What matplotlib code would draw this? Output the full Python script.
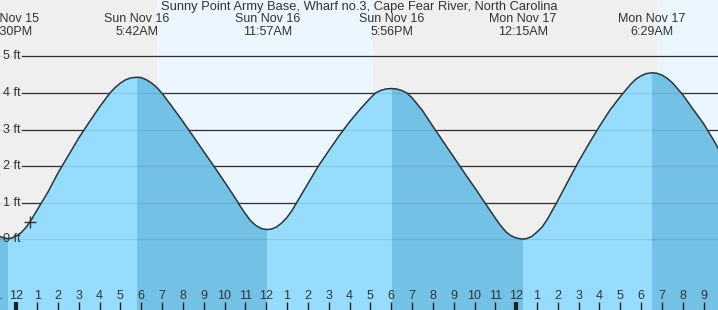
import matplotlib
matplotlib.use('Agg')
import matplotlib.pyplot as plt
import numpy as np
from matplotlib.patches import Rectangle
from matplotlib.transforms import blended_transform_factory

plt.rcParams['font.family'] = ['Liberation Sans', 'DejaVu Sans']

TITLE = 'Sunny Point Army Base, Wharf no.3, Cape Fear River, North Carolina'

# hours since midnight Sun Nov 16, every half hour
HOURS = np.arange(-1.0, 34.5, 0.5)
HEIGHTS_FT = [
    0.10, 0.03, 0.09, 0.35, 0.80, 1.27, 1.81, 2.29, 2.77, 3.20, 3.62, 4.00,
    4.27, 4.41, 4.42, 4.27, 3.99, 3.61, 3.22, 2.81, 2.40, 1.99, 1.57, 1.14,
    0.70, 0.38, 0.27, 0.34, 0.60, 1.04, 1.52, 2.00, 2.42, 2.83, 3.21, 3.55,
    3.86, 4.07, 4.12, 4.07, 3.87, 3.52, 3.09, 2.67, 2.25, 1.83, 1.42, 1.00,
    0.58, 0.21, 0.04, 0.02, 0.20, 0.55, 1.06, 1.60, 2.13, 2.62, 3.09, 3.53,
    3.90, 4.24, 4.47, 4.55, 4.49, 4.28, 3.95, 3.55, 3.16, 2.69, 2.18,
]

# extra quarter hour readings around the turns of the tide
EXTRA_HOURS = [-0.75, -0.25, 0.25, 0.75,
               4.75, 5.25, 6.25, 6.75,
               10.75, 11.25, 11.75, 12.25, 12.75, 13.25,
               17.25, 17.75, 18.25, 18.75,
               23.25, 23.75, 24.25, 24.75, 25.25,
               29.75, 30.25, 30.75, 31.25]
EXTRA_HEIGHTS = [0.07, 0.03, 0.19, 0.56,
                 4.15, 4.36, 4.36, 4.15,
                 0.91, 0.51, 0.30, 0.28, 0.45, 0.80,
                 4.00, 4.11, 4.11, 4.00,
                 0.38, 0.10, 0.01, 0.08, 0.34,
                 4.38, 4.53, 4.54, 4.40]

# high / low tides
EXTREME_HOURS = [-0.40, 5.78, 12.05, 18.02, 24.31, 30.53]
EXTREME_HEIGHTS = [0.02, 4.43, 0.27, 4.12, 0.01, 4.55]
EXTREME_KINDS = ['L', 'H', 'L', 'H', 'L', 'H']
EXTREME_DAYS = ['Sat Nov 15', 'Sun Nov 16', 'Sun Nov 16', 'Sun Nov 16',
                'Mon Nov 17', 'Mon Nov 17']
EXTREME_TIMES = ['11:30PM', '5:42AM', '11:57AM', '5:56PM', '12:15AM',
                 '6:29AM']

# daylight (sunrise, sunset) in hours
DAYLIGHT = [(6.74, 17.12), (30.76, 41.0)]

Y_TICKS = [0, 1, 2, 3, 4, 5]
HOUR_TICKS = list(range(-1, 34))
NOW = (0.66, 0.48)

X_RANGE = (-0.78, 33.69)
Y_RANGE = (-1.93, 6.54)

NIGHT_BG = '#efefef'
DAY_BG = '#ebf6fe'
FLOOD_FILL = '#96dcfc'
EBB_FILL = '#73c1e5'
INK = '#333333'


def build_curve():
    """Merge all readings with the extremes, sorted by time."""
    t = np.concatenate([HOURS, EXTRA_HOURS, EXTREME_HOURS])
    h = np.concatenate([HEIGHTS_FT, EXTRA_HEIGHTS, EXTREME_HEIGHTS])
    order = np.argsort(t)
    return t[order], h[order]


def ebb_intervals():
    """Falling tide spans: from each high to the following low."""
    spans = []
    start = X_RANGE[0] - 2
    for t, kind in zip(EXTREME_HOURS, EXTREME_KINDS):
        if kind == 'H':
            start = t
        elif start is not None:
            spans.append((start, t))
            start = None
    if start is not None:
        spans.append((start, X_RANGE[1] + 2))
    return spans


def plot_tides():
    fig = plt.figure(figsize=(7.18, 3.10), dpi=100)
    ax = fig.add_axes([0, 0, 1, 1])
    ax.set_xlim(*X_RANGE)
    ax.set_ylim(*Y_RANGE)
    ax.axis('off')
    fig.patch.set_facecolor(NIGHT_BG)

    for sunrise, sunset in DAYLIGHT:
        ax.axvspan(sunrise, sunset, color=DAY_BG, lw=0, zorder=0)

    for y in Y_TICKS:
        ax.axhline(y, xmin=22 / 718, xmax=1, color=INK, lw=0.9, zorder=1)

    t, h = build_curve()
    ax.fill_between(t, Y_RANGE[0] - 1, h, color=FLOOD_FILL, lw=0, zorder=2)
    for t0, t1 in ebb_intervals():
        dark = ax.fill_between(t, Y_RANGE[0] - 1, h, color=EBB_FILL, lw=0,
                               zorder=2)
        dark.set_clip_path(Rectangle((t0, -10), t1 - t0, 30,
                                     transform=ax.transData))

    # grid shows faintly through the water
    for y in Y_TICKS:
        ax.axhline(y, color='black', lw=0.9, alpha=0.08, zorder=3)

    ax.plot(t, h, color=INK, lw=1.1, zorder=4)
    ax.plot(*NOW, marker='+', color=INK, ms=9, mew=1, zorder=5)

    label_tf = blended_transform_factory(ax.transAxes, ax.transData)
    for y in Y_TICKS:
        ax.text(3 / 718, y, f'{y} ft', transform=label_tf, ha='left',
                va='center', fontsize=9, color=INK, zorder=6)

    top_tf = blended_transform_factory(ax.transData, ax.transAxes)
    ax.text(0.5, 1 - 7 / 310, TITLE, transform=ax.transAxes, ha='center',
            va='center', fontsize=9.3, color=INK, zorder=6)
    for x, day, clock in zip(EXTREME_HOURS, EXTREME_DAYS, EXTREME_TIMES):
        ax.text(x, 1 - 19 / 310, day, transform=top_tf, ha='center',
                va='center', fontsize=9, color=INK, zorder=6)
        ax.text(x, 1 - 32 / 310, clock, transform=top_tf, ha='center',
                va='center', fontsize=9, color=INK, zorder=6)

    for hour in HOUR_TICKS:
        midnight = hour % 24 == 0
        ax.plot([hour, hour], [0, 8 / 310], transform=top_tf,
                color='#222222', lw=3 if midnight else 1, zorder=6,
                solid_capstyle='butt')
        ax.text(hour, (310 - 295.7) / 310, str(hour % 12 or 12),
                transform=top_tf, ha='center', va='center', fontsize=9,
                color=INK, zorder=6)

    fig.savefig('out.png', dpi=100, facecolor=NIGHT_BG)


def main():
    plot_tides()


if __name__ == '__main__':
    main()
